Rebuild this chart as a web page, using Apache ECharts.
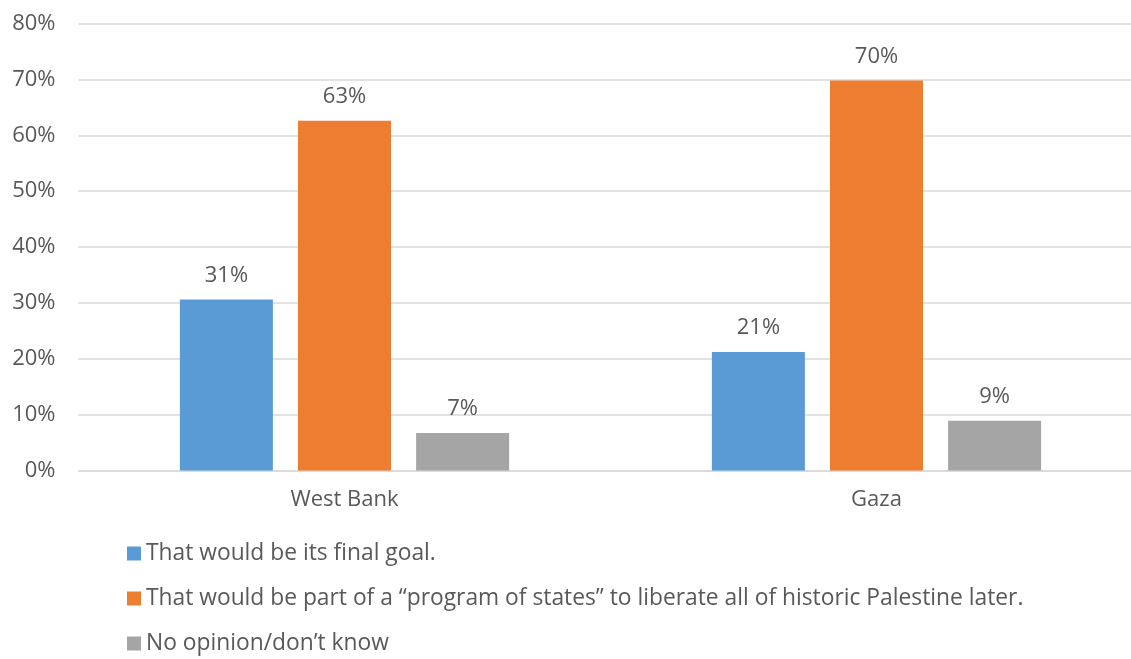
<!DOCTYPE html>
<html>
<head>
<meta charset="utf-8">
<script src="https://cdn.jsdelivr.net/npm/echarts@6/dist/echarts.min.js"></script>
<style>
html,body{margin:0;padding:0;background:#fff;}
#chart{width:1131px;height:659px;}
</style>
</head>
<body>
<div id="chart"></div>
<script>
var categories = ['West Bank', 'Gaza'];
var seriesNames = [
  'That would be its final goal.',
  'That would be part of a \u201cprogram of states\u201d to liberate all of historic Palestine later.',
  'No opinion/don\u2019t know'
];
var finalGoal = [30.6, 21.2];
var programOfStates = [62.6, 69.8];
var noOpinion = [6.7, 8.9];
var yTicks = [0, 10, 20, 30, 40, 50, 60, 70, 80];

var colors = ['#5B9BD5', '#ED7D31', '#A5A5A5'];
var font = '"Open Sans", sans-serif';
var textColor = '#595959';
var fs = 22;

function mk(name, data, color) {
  return {
    name: name,
    type: 'bar',
    data: data,
    barWidth: 93,
    barGap: '27%',
    itemStyle: { color: color },
    label: {
      show: true,
      position: 'top',
      distance: 13,
      formatter: function (p) { return Math.round(p.value) + '%'; },
      color: textColor,
      fontSize: fs,
      fontFamily: font
    }
  };
}

var chart = echarts.init(document.getElementById('chart'));
chart.setOption({
  animation: false,
  backgroundColor: '#fff',
  grid: { left: 78.5, top: 23.5, width: 1064, height: 447, containLabel: false, outerBoundsMode: 'none' },
  legend: {
    orient: 'vertical',
    left: 127,
    top: 542,
    padding: 0,
    itemWidth: 14,
    itemHeight: 14,
    itemGap: 22,
    icon: 'rect',
    textStyle: { color: textColor, fontSize: 22.8, fontFamily: font },
    data: seriesNames
  },
  xAxis: {
    type: 'category',
    data: categories,
    axisTick: { show: false },
    axisLine: { show: true, lineStyle: { color: '#d9d9d9', width: 1.5 } },
    axisLabel: { color: textColor, fontSize: fs, fontFamily: font, margin: 18 }
  },
  yAxis: {
    type: 'value',
    min: yTicks[0],
    max: yTicks[yTicks.length - 1],
    interval: 10,
    axisLine: { show: false },
    axisTick: { show: false },
    splitLine: { lineStyle: { color: '#d9d9d9', width: 1.5 } },
    axisLabel: { color: textColor, fontSize: fs, fontFamily: font, margin: 23, formatter: '{value}%' }
  },
  series: [
    mk(seriesNames[0], finalGoal, colors[0]),
    mk(seriesNames[1], programOfStates, colors[1]),
    mk(seriesNames[2], noOpinion, colors[2])
  ]
});
</script>
</body>
</html>
